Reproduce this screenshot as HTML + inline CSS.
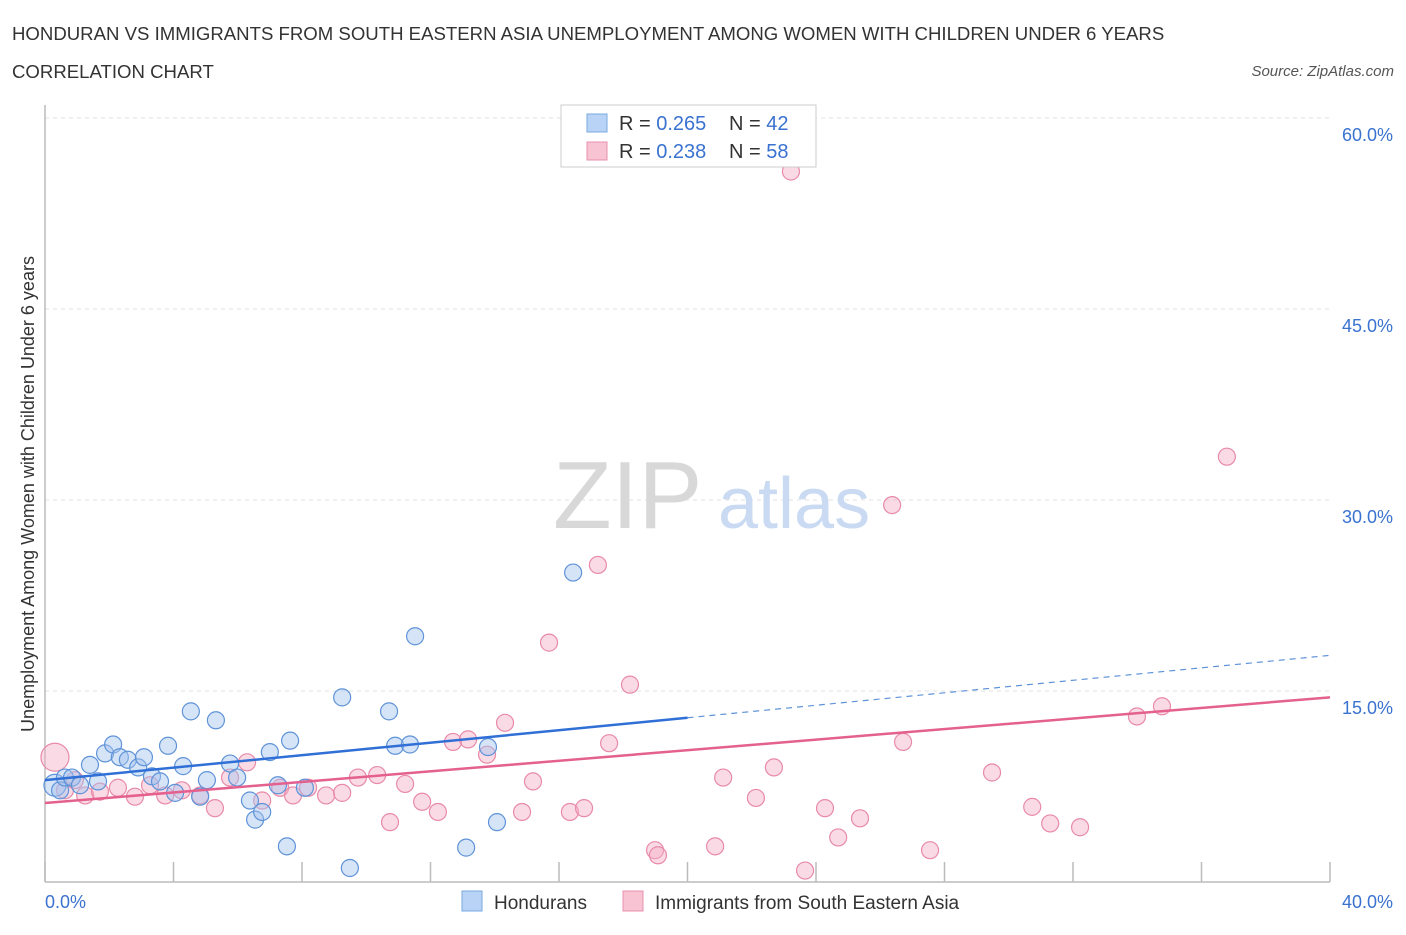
<!DOCTYPE html>
<html><head><meta charset="utf-8"><style>
body{margin:0;background:#fff;font-family:"Liberation Sans",sans-serif;}
svg text{font-family:"Liberation Sans",sans-serif;}
</style></head><body>
<svg id="chart" width="1406" height="930" xmlns="http://www.w3.org/2000/svg">
<text x="12" y="40" font-size="18.6" fill="#333">HONDURAN VS IMMIGRANTS FROM SOUTH EASTERN ASIA UNEMPLOYMENT AMONG WOMEN WITH CHILDREN UNDER 6 YEARS</text>
<text x="12" y="78" font-size="18.6" fill="#333">CORRELATION CHART</text>
<text x="1394" y="76" font-size="15" fill="#555" font-style="italic" text-anchor="end">Source: ZipAtlas.com</text>
<g id="grid"></g>
<text x="553" y="528" font-size="96" fill="#d8d8d8" font-family="Liberation Serif">ZIP</text>
<text x="718" y="528" font-size="72" fill="#c9daf2">atlas</text>
<g id="points"></g>
<g id="trends"></g>
<text transform="translate(34,494) rotate(-90)" font-size="18" fill="#333" text-anchor="middle">Unemployment Among Women with Children Under 6 years</text>
<g>
<rect x="561" y="105" width="255" height="62" fill="#fff" stroke="#ccc"/>
<rect x="587" y="114" width="20" height="18" fill="#b8d3f5" stroke="#7aa8e0"/>
<text x="619" y="130" font-size="20" fill="#333">R = <tspan fill="#3a72d0">0.265</tspan></text>
<text x="729" y="130" font-size="20" fill="#333">N = <tspan fill="#3a72d0">42</tspan></text>
<rect x="587" y="142" width="20" height="18" fill="#f8c4d4" stroke="#e890ac"/>
<text x="619" y="158" font-size="20" fill="#333">R = <tspan fill="#3a72d0">0.238</tspan></text>
<text x="729" y="158" font-size="20" fill="#333">N = <tspan fill="#3a72d0">58</tspan></text>
</g>
<g>
<rect x="462" y="891" width="20" height="20" fill="#b8d3f5" stroke="#7aa8e0"/>
<text x="494" y="909" font-size="19" fill="#333">Hondurans</text>
<rect x="623" y="891" width="20" height="20" fill="#f8c4d4" stroke="#e890ac"/>
<text x="655" y="909" font-size="19" fill="#333">Immigrants from South Eastern Asia</text>
</g>
</svg>
<script>
const xTicks=[0,4,8,12,16,20,24,28,32,36,40];
const yTicks=[15,30,45,60];
const yTickLabels=["15.0%","30.0%","45.0%","60.0%"];
const xEndLabels=["0.0%","40.0%"];
const blueX=[0.31,0.47,0.62,0.84,1.09,1.40,1.65,1.87,2.12,2.33,2.58,2.90,3.08,3.33,3.58,3.83,4.05,4.30,4.54,4.83,5.04,5.32,5.76,5.98,6.38,6.54,6.76,7.00,7.25,7.53,7.63,8.09,9.25,9.49,10.71,10.90,11.36,11.52,13.11,13.79,14.07,16.44];
const blueY=[7.6,7.2,8.2,8.2,7.6,9.2,7.9,10.1,10.8,9.8,9.6,9.0,9.8,8.3,7.9,10.7,7.0,9.1,13.4,6.7,8.0,12.7,9.3,8.2,6.4,4.9,5.5,10.2,7.6,2.8,11.1,7.4,14.5,1.1,13.4,10.7,10.8,19.3,2.7,10.6,4.7,24.3];
const pinkX=[0.31,0.62,0.93,1.25,1.71,2.27,2.80,3.27,3.74,4.26,4.83,5.29,5.76,6.29,6.76,7.32,7.72,8.19,8.75,9.25,9.74,10.34,10.74,11.21,11.74,12.23,12.70,13.17,13.76,14.32,14.85,15.19,15.69,16.34,16.78,17.21,17.56,18.21,18.99,19.08,20.86,21.11,22.13,22.69,23.22,23.66,24.28,24.69,25.37,26.37,26.71,27.55,29.48,30.73,31.29,32.22,33.99,34.77,36.79];
const pinkY=[9.8,7.2,8.0,6.8,7.1,7.4,6.7,7.6,6.8,7.2,6.8,5.8,8.2,9.4,6.4,7.4,6.8,7.4,6.8,7.0,8.2,8.4,4.7,7.7,6.3,5.5,11.0,11.2,10.0,12.5,5.5,7.9,18.8,5.5,5.8,24.9,10.9,15.5,2.5,2.1,2.8,8.2,6.6,9.0,55.8,0.9,5.8,3.5,5.0,29.6,11.0,2.5,8.6,5.9,4.6,4.3,13.0,13.8,33.4];
const blueTrend=[8.0,17.8];
const pinkTrend=[6.2,14.5];
const NS="http://www.w3.org/2000/svg";
const X=v=>45+v/40*1285;
const Y=v=>882-v/60*764;
function mk(t,a,p){const e=document.createElementNS(NS,t);for(const k in a)e.setAttribute(k,a[k]);document.getElementById(p).appendChild(e);return e;}
yTicks.forEach((t,i)=>{
 const l=mk('line',{x1:45,x2:1330,y1:Y(t),y2:Y(t),stroke:'#e2e2e2','stroke-dasharray':'4,4'},'grid');
 
 
 const tx=mk('text',{x:1393,y:Y(t)+23,'font-size':18,fill:'#3a72d0','text-anchor':'end'},'grid');
 tx.textContent=yTickLabels[i];
 
 
});
const ax=mk('line',{x1:45,x2:1330,y1:882,y2:882,stroke:'#bbb','stroke-width':1.5},'grid');


const ay=mk('line',{x1:45,x2:45,y1:105,y2:882,stroke:'#bbb','stroke-width':1.5},'grid');


xTicks.forEach(t=>{
 const l=mk('line',{x1:X(t),x2:X(t),y1:862,y2:882,stroke:'#bbb','stroke-width':1.5},'grid');
 
 
});
[[0,45,'start'],[1,1393,'end']].forEach(([i,x,a])=>{
 const tx=mk('text',{x:x,y:908,'font-size':18,fill:'#3a72d0','text-anchor':a},'grid');
 tx.textContent=xEndLabels[i];
 
 
});
function pts(xs,ys,fill,stroke,name){
 xs.forEach((x,i)=>{
  const r=i===0?(name==='pink-point'?14:11):8.5;
  const c=mk('circle',{cx:X(x),cy:Y(ys[i]),r:r,fill:fill,'fill-opacity':0.45,stroke:stroke,'stroke-width':1.2},'points');
  
  
 });
}
pts(pinkX,pinkY,'#f5b0c6','#e88aa8','pink-point');
pts(blueX,blueY,'#a3c4ee','#5f93d8','blue-point');
const by=x=>blueTrend[0]+(blueTrend[1]-blueTrend[0])*x/40;
const py=x=>pinkTrend[0]+(pinkTrend[1]-pinkTrend[0])*x/40;
let e=mk('line',{x1:X(0),y1:Y(by(0)),x2:X(20),y2:Y(by(20)),stroke:'#2f6fd6','stroke-width':2.5},'trends');


e=mk('line',{x1:X(20),y1:Y(by(20)),x2:X(40),y2:Y(by(40)),stroke:'#5f93d8','stroke-width':1.2,'stroke-dasharray':'6,5'},'trends');


e=mk('line',{x1:X(0),y1:Y(py(0)),x2:X(40),y2:Y(py(40)),stroke:'#e4608e','stroke-width':2.5},'trends');


</script>
</body></html>
